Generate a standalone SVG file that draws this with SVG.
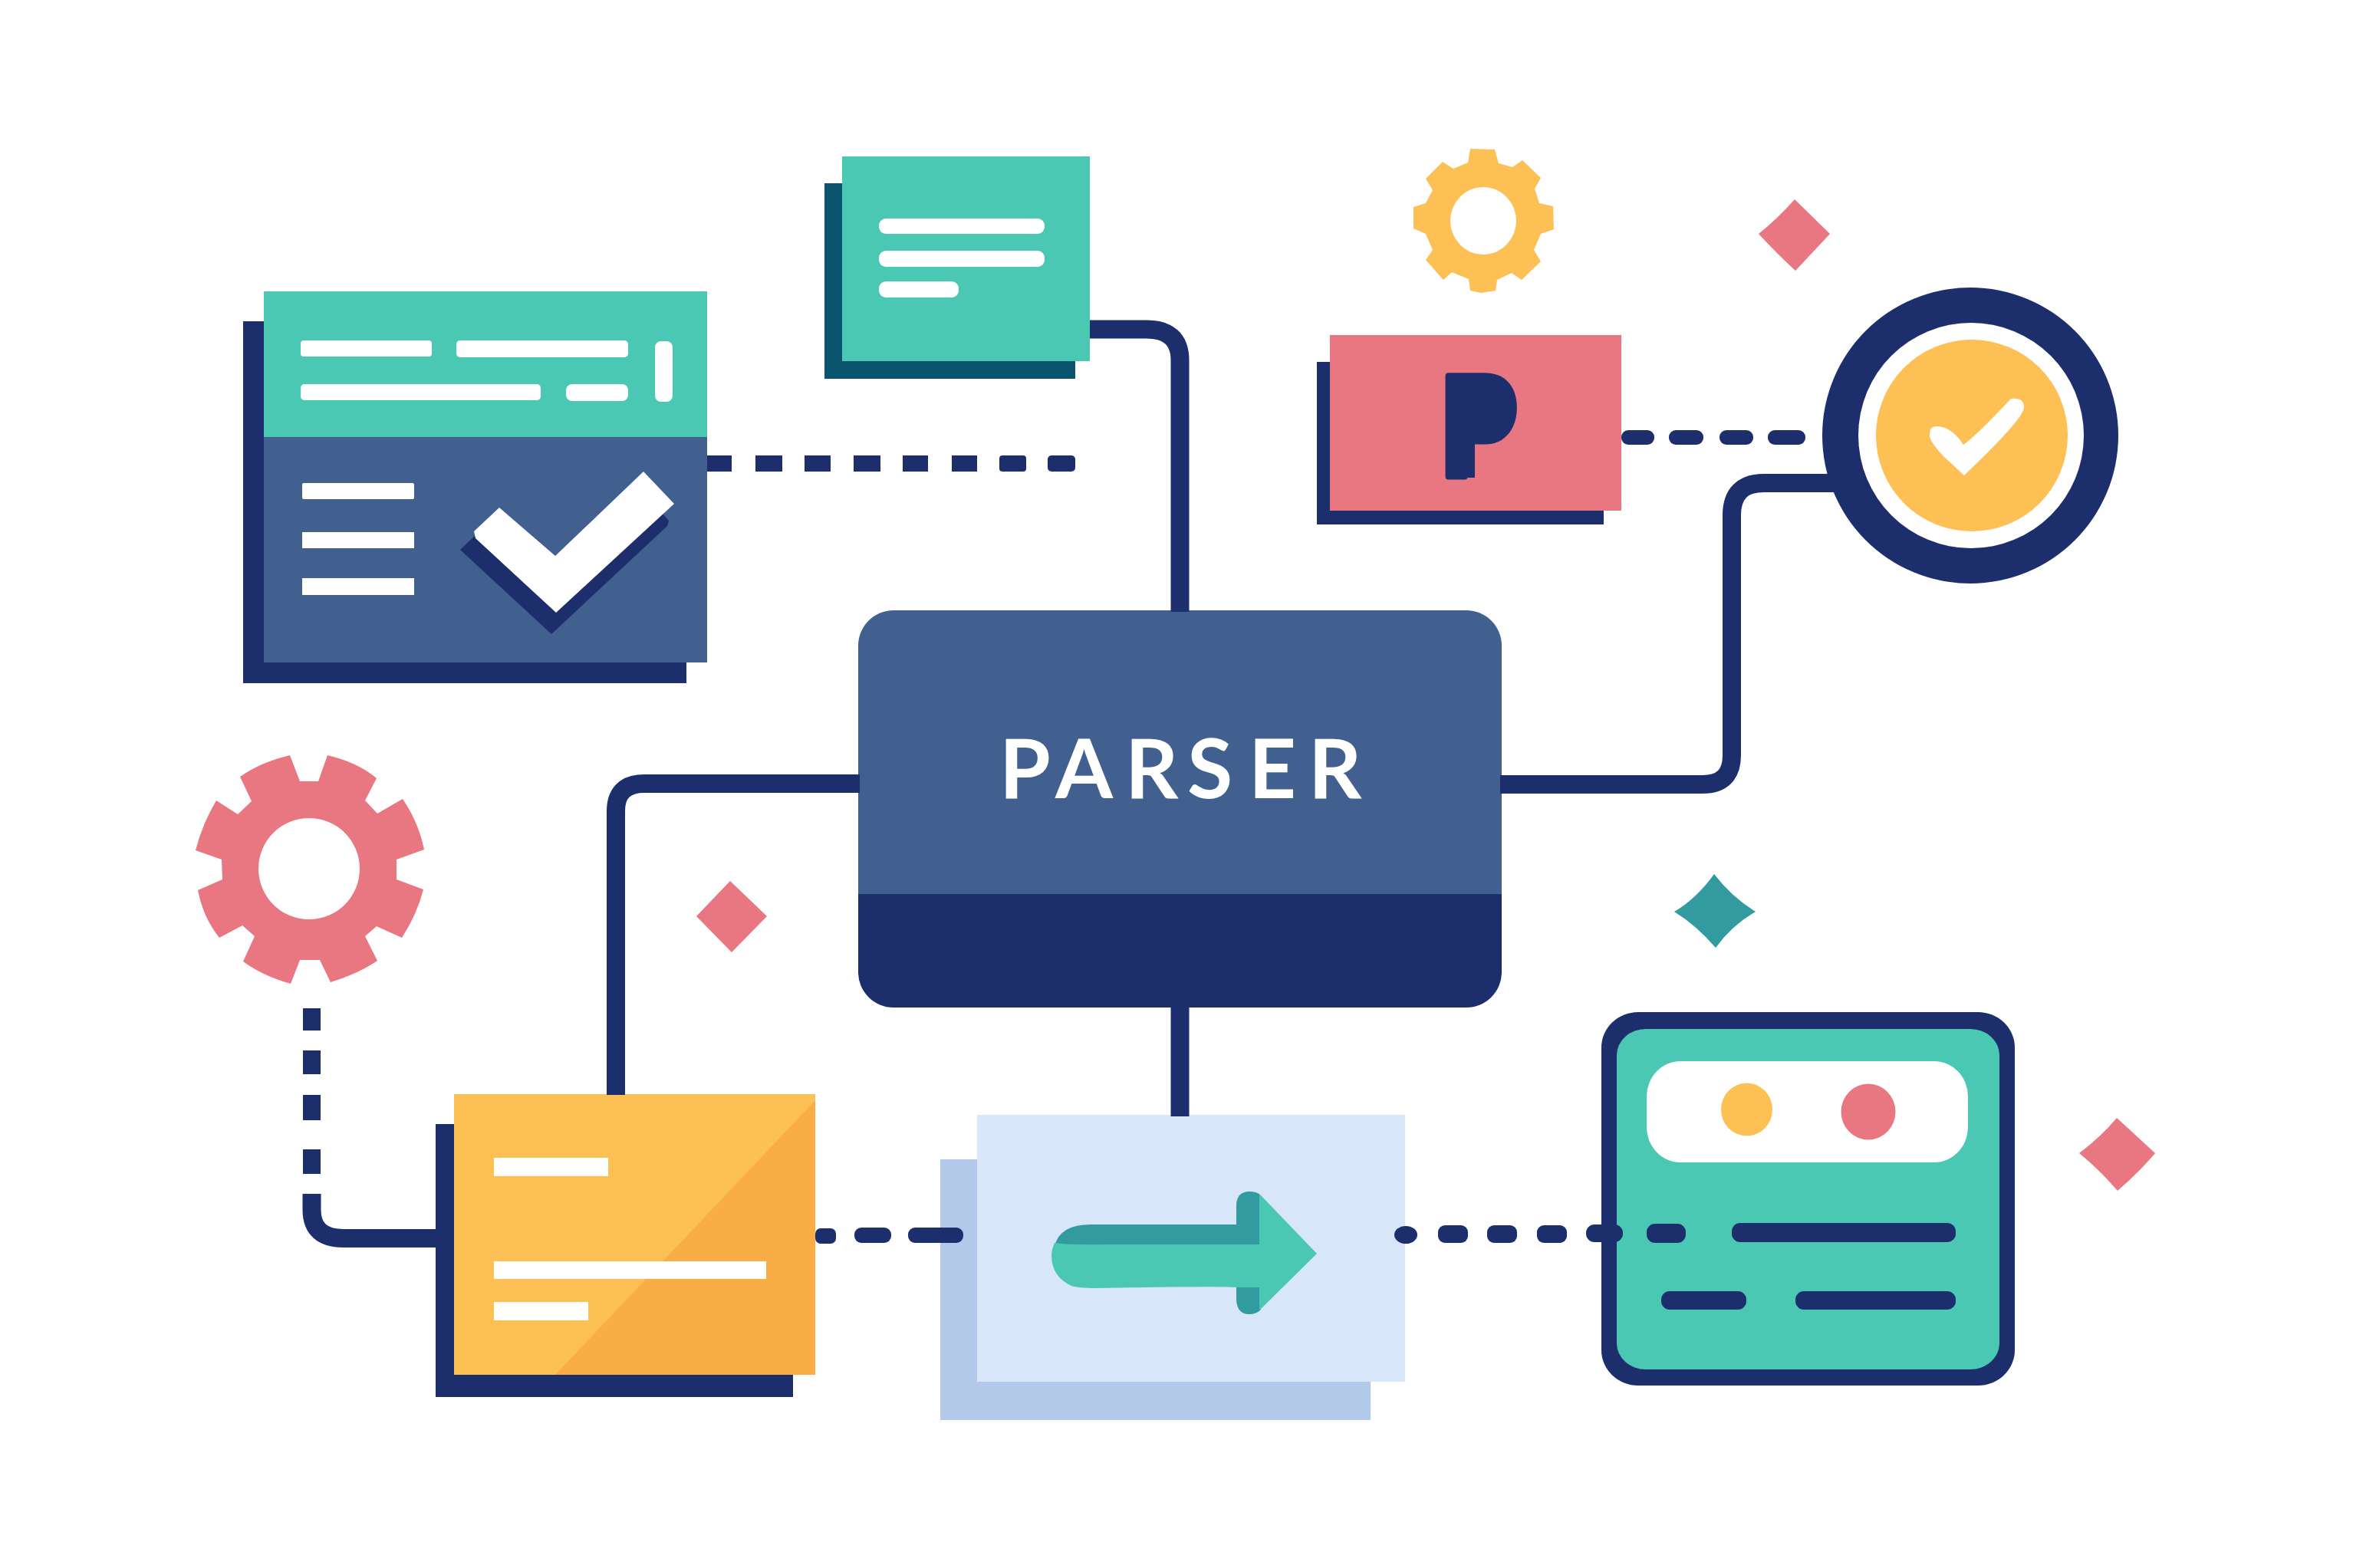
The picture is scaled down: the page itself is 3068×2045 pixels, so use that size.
<svg xmlns="http://www.w3.org/2000/svg" width="3068" height="2045" viewBox="0 0 3068 2045">
<style>
.navy{fill:#1c2e6b}.blue{fill:#416090}.teal{fill:#4ac8b4}.tealD{fill:#319b9f}.petrol{fill:#0a5470}
.pink{fill:#e97782}.yel{fill:#fdc055}.org{fill:#f9ae45}.white{fill:#fff}.sky{fill:#d8e6f9}.skyD{fill:#b2c9ea}
.line{fill:none;stroke:#1c2e6b;stroke-width:24}
.d{fill:#1c2e6b}
.label{font-family:"Lato","Liberation Sans",sans-serif;font-weight:700;fill:#fff;font-size:108px}
.pglyph{font-family:"Liberation Sans",sans-serif;font-weight:700;fill:#1c2e6b;stroke:#1c2e6b;stroke-width:9;stroke-linejoin:round;font-size:190px}
</style>
<rect width="3068" height="2045" fill="#fefefe"/>
<g id="node-left-card">
<rect class="navy" x="317" y="419" width="578" height="472"/>
<rect class="teal" x="344" y="380" width="578" height="192"/>
<rect class="blue" x="344" y="570" width="578" height="294"/>
<rect class="white" x="392" y="444" width="171" height="21" rx="4"/>
<rect class="white" x="595" y="444" width="224" height="22" rx="5"/>
<rect class="white" x="854" y="445" width="23" height="79" rx="8"/>
<rect class="white" x="392" y="501" width="313" height="21" rx="5"/>
<rect class="white" x="738" y="501" width="81" height="22" rx="8"/>
<rect class="white" x="394" y="630" width="146" height="21" rx="2"/>
<rect class="white" x="394" y="694" width="146" height="21"/>
<rect class="white" x="394" y="754" width="146" height="22"/>
<path class="navy" d="M620,698 L600,717 L719,827 L870,686 L872,679 L864,670 L725,790 Z"/>
<path class="white" d="M651,662 L724,725 L839,615 L879,657 L725,799 L620,702 L618,693 Z"/>
</g>
<g id="node-top-card">
<rect class="petrol" x="1075" y="239" width="327" height="255"/>
<rect class="teal" x="1098" y="204" width="323" height="267"/>
<rect class="white" x="1146" y="285" width="216" height="20" rx="9"/>
<rect class="white" x="1146" y="327" width="216" height="21" rx="9"/>
<rect class="white" x="1146" y="367" width="104" height="21" rx="9"/>
</g>
<g id="node-gear-yellow">
<path class="yel" fill-rule="evenodd" d="M1917,194 L1949,195 L1954,213 L1972,218 L1985,209 L2009,232 L2001,246 L2007,265 L2025,269 L2026,299 L2009,305 L2000,326 L2009,341 L1984,365 L1971,356 L1952,365 L1950,379 L1931,382 L1917,379 L1915,364 L1893,355 L1882,365 L1859,339 L1868,326 L1859,305 L1843,298 L1843,270 L1859,265 L1868,248 L1859,233 L1881,211 L1895,220 L1914,212 Z M1977,288 A43,44 0 1 0 1891,288 A43,44 0 1 0 1977,288 Z"/>
</g>
<g id="node-pink-card">
<rect class="navy" x="1717" y="472" width="374" height="212"/>
<rect class="pink" x="1734" y="437" width="380" height="229"/>
<rect class="navy" x="1885" y="490" width="38" height="133"/>
<text class="pglyph" transform="translate(1878,621) scale(.8,1)">P</text>
<rect class="navy" x="1912" y="510" width="42" height="50"/>
</g>
<g id="node-check-circle">
<circle class="navy" cx="2569" cy="568" r="193"/>
<circle class="white" cx="2570" cy="568" r="147"/>
<circle class="yel" cx="2571" cy="568" r="125"/>
<path class="white" d="M2524,556 Q2545,556 2560,580 Q2575,570 2622,520 Q2639,518 2639,531 Q2640,545 2561,620 L2535,596 Q2515,575 2516,567 Q2516,556 2524,556 Z"/>
</g>
<g id="node-parser">
<path class="blue" d="M1119,1170 V842 A46,46 0 0 1 1165,796 H1912 A46,46 0 0 1 1958,842 V1170 Z"/>
<path class="navy" d="M1119,1166 H1958 V1268 A46,46 0 0 1 1912,1314 H1165 A46,46 0 0 1 1119,1268 Z"/>
<text class="label" x="1303 1376 1467 1548 1628 1706" y="1041">PARSER</text>
</g>
<g id="node-gear-pink">
<path class="pink" fill-rule="evenodd" d="M378,985 L391,1019 L415,1019 L427,985 Q466,994 491,1015 L476,1044 L492,1061 L525,1042 Q546,1073 553,1108 L517,1121 L517,1147 L552,1160 Q544,1192 524,1223 L491,1208 L476,1221 L492,1253 Q467,1270 431,1281 L417,1252 L391,1252 L379,1283 Q343,1273 317,1254 L332,1221 L316,1207 L286,1223 Q265,1197 258,1161 L290,1147 L289,1121 L255,1109 Q264,1074 282,1044 L310,1062 L328,1045 L313,1013 Q340,994 378,985 Z M469,1133 A66,66 0 1 0 337,1133 A66,66 0 1 0 469,1133 Z"/>
</g>
<g id="node-yellow-card">
<rect class="navy" x="568" y="1466" width="466" height="356"/>
<rect class="yel" x="592" y="1427" width="471" height="366"/>
<path class="org" d="M1063,1435 L864,1645 L724,1793 H1063 Z"/>
<rect class="white" x="644" y="1510" width="149" height="24"/>
<rect class="white" x="644" y="1645" width="355" height="23"/>
<rect class="white" x="644" y="1698" width="123" height="24"/>
</g>
<g id="node-arrow-card">
<rect class="skyD" x="1226" y="1512" width="561" height="340"/>
<rect class="sky" x="1274" y="1454" width="558" height="348"/>
<path class="tealD" d="M1375,1625 Q1382,1597 1422,1597 H1612 V1573 Q1612,1554 1629,1554 Q1638,1554 1643,1558 V1625 Z M1612,1675 H1644 V1708 Q1638,1714 1629,1714 Q1612,1714 1612,1693 Z"/>
<path class="teal" d="M1375,1621 Q1400,1624 1440,1623 H1642 V1558 L1643,1558 L1717,1635 L1643,1708 L1642,1708 V1679 H1612 Q1595,1677 1430,1680 Q1405,1680 1397,1677 Q1371,1665 1371,1637 Q1371,1630 1375,1621 Z"/>
</g>
<g id="node-phone">
<rect class="navy" x="2088" y="1320" width="539" height="487" rx="48" ry="46"/>
<rect class="teal" x="2108" y="1342" width="499" height="444" rx="38" ry="34"/>
<rect class="white" x="2147" y="1384" width="419" height="132" rx="44" ry="46"/>
<ellipse class="yel" cx="2277.500" cy="1447" rx="33.500" ry="34.500"/>
<ellipse class="pink" cx="2436" cy="1450" rx="35.500" ry="36.500"/>
<rect class="navy" x="2147" y="1596" width="51" height="25" rx="11"/>
<rect class="navy" x="2258" y="1595" width="292" height="25" rx="11"/>
<rect class="navy" x="2166" y="1684" width="111" height="24" rx="11"/>
<rect class="navy" x="2341" y="1684" width="209" height="24" rx="11"/>
</g>
<g id="deco">
<path class="pink" d="M2340,260 L2386,305 L2341,353 Q2318,332 2293,305 Q2318,285 2340,260 Z"/>
<path class="pink" d="M952,1149 L1000,1195 L954,1242 L908,1195 Z"/>
<path class="pink" d="M2760,1458 L2810,1504 Q2788,1530 2761,1553 Q2738,1526 2711,1504 Q2740,1482 2760,1458 Z"/>
<path class="tealD" d="M2235,1140 Q2258,1170 2289,1189 Q2258,1207 2237,1236 Q2212,1207 2183,1189 Q2212,1172 2235,1140 Z"/>
</g>
<g id="connectors">
<path class="line" d="M1421,429.500 H1495 Q1538.500,429.500 1538.500,470 V798"/>
<path class="line" d="M1538.500,1312 V1456"/>
<path class="line" d="M1121,1022 H840 Q803,1022 803,1058 V1428"/>
<path class="line" d="M1956,1023 H2220 Q2258,1023 2258,985 V672 Q2258,630 2300,630 H2400"/>
<path class="line" d="M406.500,1557 V1578 Q406.500,1615 448,1615 H570"/>
<rect class="d" x="922" y="594" width="32" height="21"/><rect class="d" x="985" y="594" width="35" height="21"/><rect class="d" x="1049" y="594" width="34" height="21"/><rect class="d" x="1113" y="594" width="35" height="21"/><rect class="d" x="1177" y="594" width="33" height="21"/><rect class="d" x="1241" y="594" width="33" height="21"/><rect class="d" x="1303" y="594" width="35" height="21" rx="4"/><rect class="d" x="1366" y="594" width="36" height="21" rx="5"/>
<rect class="d" x="2114" y="561" width="43" height="19" rx="9"/><rect class="d" x="2176" y="561" width="45" height="19" rx="9"/><rect class="d" x="2242" y="561" width="44" height="19" rx="9"/><rect class="d" x="2305" y="561" width="49" height="19" rx="9"/>
<rect class="d" x="395" y="1315" width="23" height="29"/><rect class="d" x="395" y="1370" width="23" height="31"/><rect class="d" x="395" y="1428" width="23" height="33"/><rect class="d" x="395" y="1499" width="23" height="32"/>
<rect class="d" x="1063" y="1602" width="27" height="20" rx="7"/><rect class="d" x="1114" y="1601" width="48" height="20" rx="9"/><rect class="d" x="1184" y="1601" width="72" height="20" rx="9"/>
<ellipse class="d" cx="1833" cy="1610.500" rx="15" ry="11.500"/>
<rect class="d" x="1875" y="1598" width="39" height="23" rx="9"/><rect class="d" x="1939" y="1598" width="39" height="23" rx="9"/><rect class="d" x="2004" y="1598" width="39" height="23" rx="9"/><rect class="d" x="2068" y="1597" width="48" height="23" rx="11"/>
</g>
</svg>
